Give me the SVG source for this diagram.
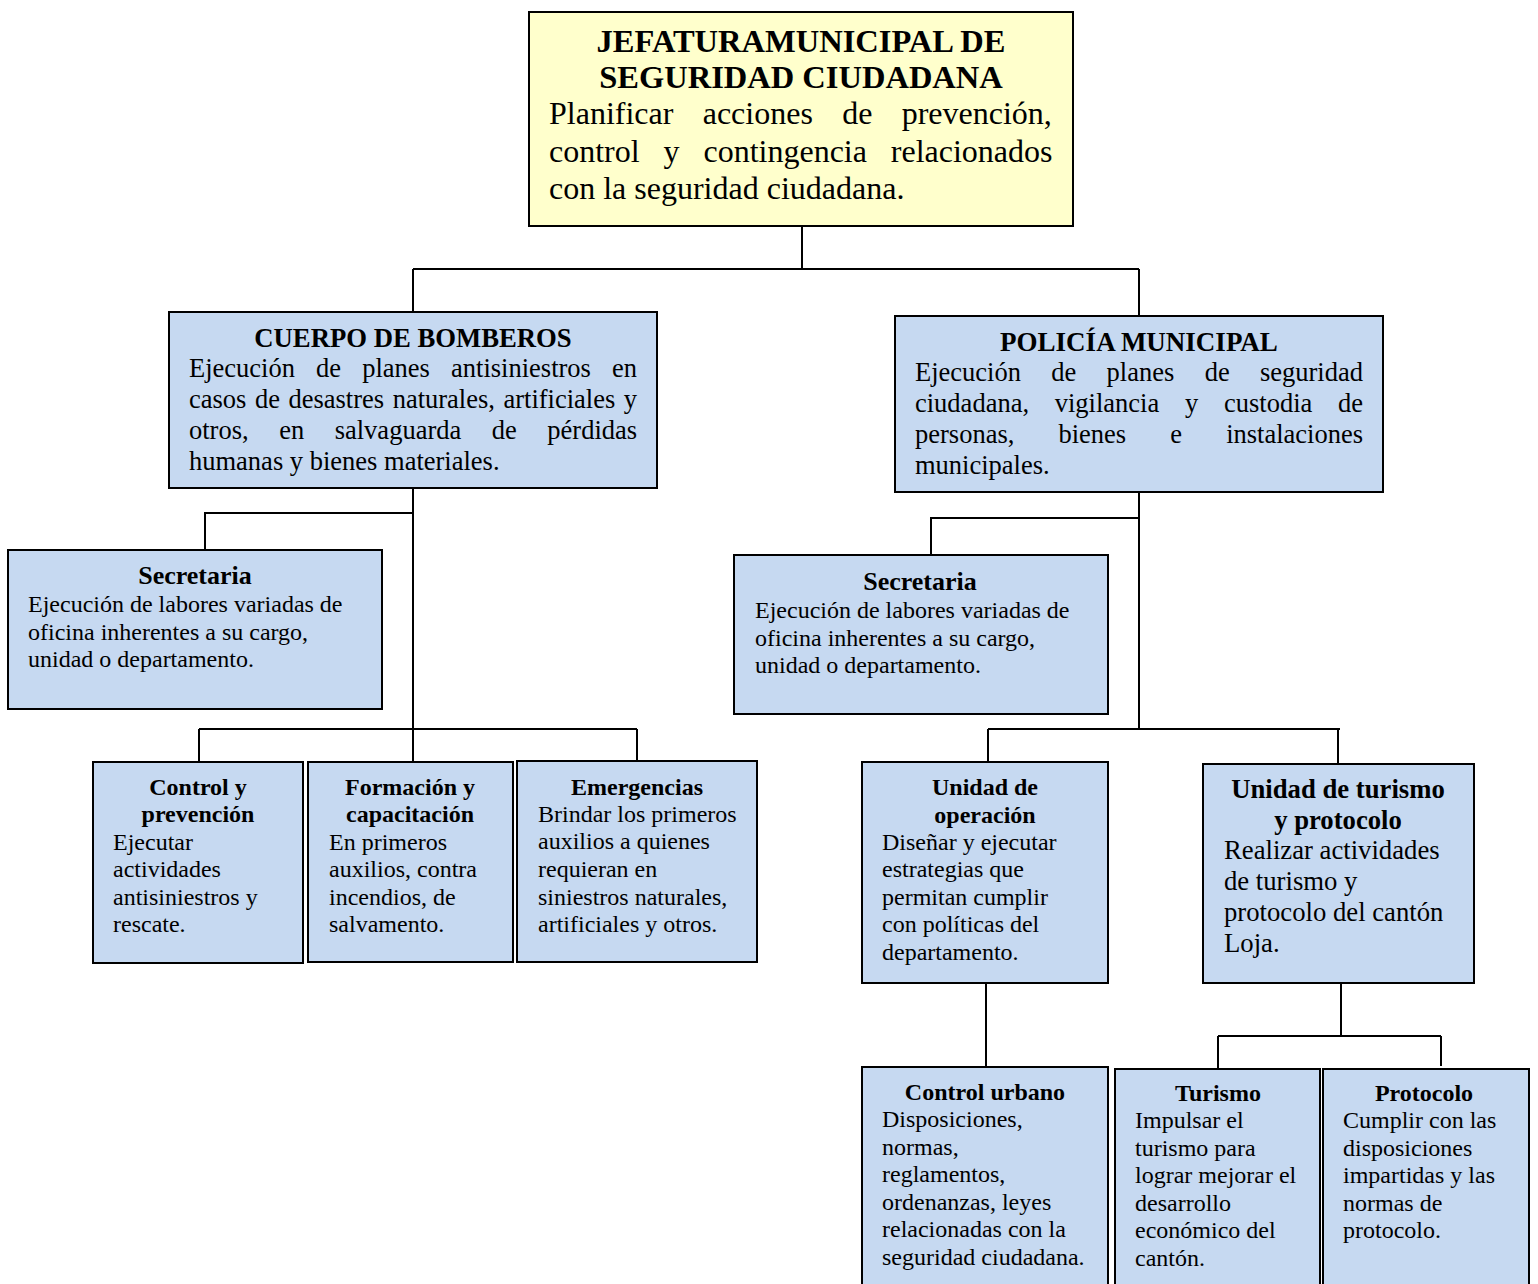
<svg xmlns="http://www.w3.org/2000/svg" width="1538" height="1284" viewBox="0 0 1538 1284">
<style>
.box{fill:#C6D9F1;stroke:#000;stroke-width:2}
.top{fill:#FFFFCC;stroke:#000;stroke-width:2}
text{font-family:"Liberation Serif","Times New Roman",serif;fill:#000}
.t{font-weight:bold;text-anchor:middle}
.c{fill:none;stroke:#000;stroke-width:2}
</style>
<rect width="1538" height="1284" fill="#fff"/>
<g id="connectors">
<path class="c" d="M802 226V269M413 269H1139M413 269V312M1139 269V316"/>
<path class="c" d="M413 488V729M413 513H205V550M199 729H637M199 729V762M413 729V762M637 729V761"/>
<path class="c" d="M1139 492V729M1139 518H931V555M988 729H1340M988 729V762M1338 729V764"/>
<path class="c" d="M986 983V1067M1341 983V1036M1218 1036H1441M1218 1036V1069M1441 1036V1066"/>
</g>
<g id="jefatura">
<rect class="top" x="529" y="12" width="544" height="214"/>
<text class="t" x="801" y="52" font-size="32.5">JEFATURAMUNICIPAL DE</text>
<text class="t" x="801" y="88" font-size="32.5">SEGURIDAD CIUDADANA</text>
<g font-size="32">
<text x="549" y="124" word-spacing="21.3">Planificar acciones de prevención,</text>
<text x="549" y="162" word-spacing="15.9">control y contingencia relacionados</text>
<text x="549" y="199">con la seguridad ciudadana.</text>
</g>
</g>
<g id="bomberos">
<rect class="box" x="169" y="312" width="488" height="176"/>
<text class="t" x="413" y="347" font-size="26.7">CUERPO DE BOMBEROS</text>
<g font-size="26.5">
<text x="189" y="377" word-spacing="14.5">Ejecución de planes antisiniestros en</text>
<text x="189" y="408" word-spacing="1.9">casos de desastres naturales, artificiales y</text>
<text x="189" y="439" word-spacing="23.9">otros, en salvaguarda de pérdidas</text>
<text x="189" y="470">humanas y bienes materiales.</text>
</g>
</g>
<g id="policia">
<rect class="box" x="895" y="316" width="488" height="176"/>
<text class="t" x="1139" y="351" font-size="27">POLICÍA MUNICIPAL</text>
<g font-size="26.5">
<text x="915" y="381" word-spacing="23.7">Ejecución de planes de seguridad</text>
<text x="915" y="412" word-spacing="19.1">ciudadana, vigilancia y custodia de</text>
<text x="915" y="443" word-spacing="37.5">personas, bienes e instalaciones</text>
<text x="915" y="474">municipales.</text>
</g>
</g>
<g id="secretaria-bomberos">
<rect class="box" x="8" y="550" width="374" height="159"/>
<text class="t" x="195" y="584" font-size="26">Secretaria</text>
<g font-size="24">
<text x="28" y="612">Ejecución de labores variadas de</text>
<text x="28" y="640">oficina inherentes a su cargo,</text>
<text x="28" y="667">unidad o departamento.</text>
</g>
</g>
<g id="control-prevencion">
<rect class="box" x="93" y="762" width="210" height="201"/>
<text class="t" x="198" y="795" font-size="24">Control y</text>
<text class="t" x="198" y="822" font-size="24">prevención</text>
<g font-size="24">
<text x="113" y="850">Ejecutar</text>
<text x="113" y="877">actividades</text>
<text x="113" y="905">antisiniestros y</text>
<text x="113" y="932">rescate.</text>
</g>
</g>
<g id="formacion">
<rect class="box" x="308" y="762" width="205" height="200"/>
<text class="t" x="410" y="795" font-size="24">Formación y</text>
<text class="t" x="410" y="822" font-size="24">capacitación</text>
<g font-size="24">
<text x="329" y="850">En primeros</text>
<text x="329" y="877">auxilios, contra</text>
<text x="329" y="905">incendios, de</text>
<text x="329" y="932">salvamento.</text>
</g>
</g>
<g id="emergencias">
<rect class="box" x="517" y="761" width="240" height="201"/>
<text class="t" x="637" y="795" font-size="24">Emergencias</text>
<g font-size="24">
<text x="538" y="822">Brindar los primeros</text>
<text x="538" y="849">auxilios a quienes</text>
<text x="538" y="877">requieran en</text>
<text x="538" y="905">siniestros naturales,</text>
<text x="538" y="932">artificiales y otros.</text>
</g>
</g>
<g id="secretaria-policia">
<rect class="box" x="734" y="555" width="374" height="159"/>
<text class="t" x="920" y="590" font-size="26">Secretaria</text>
<g font-size="24">
<text x="755" y="618">Ejecución de labores variadas de</text>
<text x="755" y="646">oficina inherentes a su cargo,</text>
<text x="755" y="673">unidad o departamento.</text>
</g>
</g>
<g id="unidad-operacion">
<rect class="box" x="862" y="762" width="246" height="221"/>
<text class="t" x="985" y="795" font-size="24">Unidad de</text>
<text class="t" x="985" y="823" font-size="24">operación</text>
<g font-size="24">
<text x="882" y="850">Diseñar y ejecutar</text>
<text x="882" y="877">estrategias que</text>
<text x="882" y="905">permitan cumplir</text>
<text x="882" y="932">con políticas del</text>
<text x="882" y="960">departamento.</text>
</g>
</g>
<g id="unidad-turismo">
<rect class="box" x="1203" y="764" width="271" height="219"/>
<text class="t" x="1338" y="798" font-size="26.7">Unidad de turismo</text>
<text class="t" x="1338" y="829" font-size="26.7">y protocolo</text>
<g font-size="26.7">
<text x="1224" y="859">Realizar actividades</text>
<text x="1224" y="890">de turismo y</text>
<text x="1224" y="921">protocolo del cantón</text>
<text x="1224" y="952">Loja.</text>
</g>
</g>
<g id="control-urbano">
<rect class="box" x="862" y="1067" width="246" height="230"/>
<text class="t" x="985" y="1100" font-size="24">Control urbano</text>
<g font-size="24">
<text x="882" y="1127">Disposiciones,</text>
<text x="882" y="1155">normas,</text>
<text x="882" y="1182">reglamentos,</text>
<text x="882" y="1210">ordenanzas, leyes</text>
<text x="882" y="1237">relacionadas con la</text>
<text x="882" y="1265">seguridad ciudadana.</text>
</g>
</g>
<g id="turismo">
<rect class="box" x="1115" y="1069" width="205" height="230"/>
<text class="t" x="1218" y="1101" font-size="24">Turismo</text>
<g font-size="24">
<text x="1135" y="1128">Impulsar el</text>
<text x="1135" y="1156">turismo para</text>
<text x="1135" y="1183">lograr mejorar el</text>
<text x="1135" y="1211">desarrollo</text>
<text x="1135" y="1238">económico del</text>
<text x="1135" y="1266">cantón.</text>
</g>
</g>
<g id="protocolo">
<rect class="box" x="1323" y="1069" width="206" height="230"/>
<text class="t" x="1424" y="1101" font-size="24">Protocolo</text>
<g font-size="24">
<text x="1343" y="1128">Cumplir con las</text>
<text x="1343" y="1156">disposiciones</text>
<text x="1343" y="1183">impartidas y las</text>
<text x="1343" y="1211">normas de</text>
<text x="1343" y="1238">protocolo.</text>
</g>
</g>
</svg>
